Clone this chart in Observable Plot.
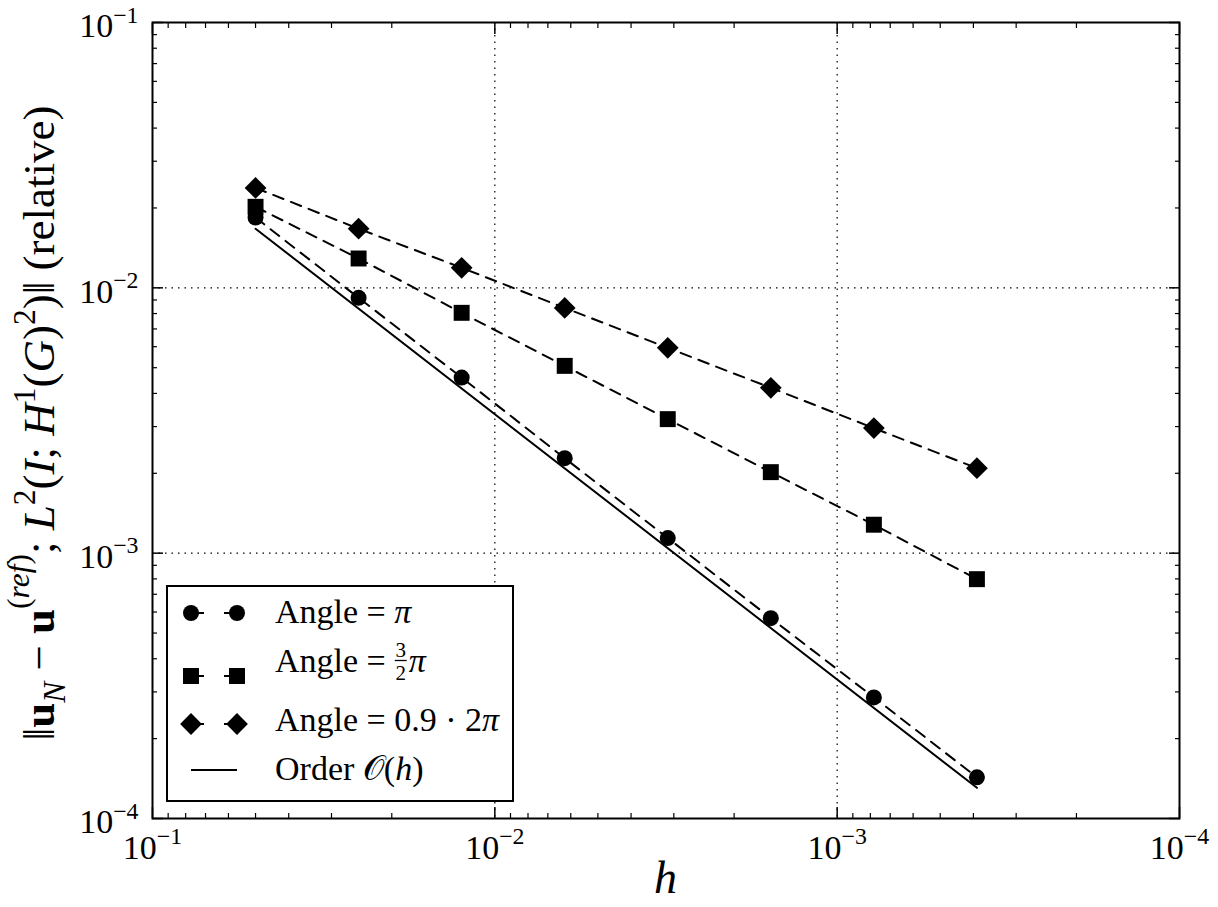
<!DOCTYPE html>
<html><head><meta charset="utf-8">
<script src="https://cdn.jsdelivr.net/npm/d3@7"></script>
<script src="https://cdn.jsdelivr.net/npm/@observablehq/plot@0.6"></script>
<style>
html,body{margin:0;padding:0;background:#fff}
#chart{width:1218px;height:907px}
#chart svg text, #chart svg tspan{font-family:'Liberation Serif','Times New Roman',serif !important}
</style>
</head><body><div id="chart"></div>
<script>
// ---- data ----
const meshSizes = [0.05, 0.025, 0.0125, 0.00625, 0.003125, 0.0015625, 0.00078125, 0.000390625];
const errAnglePi = [0.0184, 0.00917, 0.00459, 0.00228, 0.00114, 0.000569, 0.000286, 0.000143];
const errAngleThreeHalvesPi = [0.0202, 0.0129, 0.00805, 0.00508, 0.00320, 0.00202, 0.00128, 0.000798];
const errAngleNineTenthsTwoPi = [0.0238, 0.0167, 0.0119, 0.0084, 0.00594, 0.0042, 0.00296, 0.00209];
const orderMeshSizes = [0.05, 0.000390625];
const orderValues = [0.0167, 0.0001305];
const majorTicks = [1e-1, 1e-2, 1e-3, 1e-4];
const majorTickLabels = ["10^-1", "10^-2", "10^-3", "10^-4"];
const gridTicks = [1e-2, 1e-3];

const minorTicks = [];
for (const e of [-2, -3, -4]) for (let m = 2; m <= 9; m++) minorTicks.push(+(m * Math.pow(10, e)).toPrecision(6));

const rows = (xs, ys) => xs.map((x, i) => ({x, y: ys[i]}));
const sPi = rows(meshSizes, errAnglePi);
const sThree = rows(meshSizes, errAngleThreeHalvesPi);
const sNine = rows(meshSizes, errAngleNineTenthsTwoPi);
const sOrder = rows(orderMeshSizes, orderValues);
const labelOf = v => majorTickLabels[majorTicks.indexOf(v)];

const FONT = "'Liberation Serif', 'Times New Roman', serif";
const dash = "11,8";
const R_CIRCLE = 8, R_SQUARE = 9, R_DIAMOND = 9.8;

const tickAxes = [];
for (const a of ["bottom", "top"]) {
  tickAxes.push(Plot.axisX({anchor: a, ticks: majorTicks, tickSize: -11, fill: "none", label: null, strokeWidth: 1.5}));
  tickAxes.push(Plot.axisX({anchor: a, ticks: minorTicks, tickSize: -5, fill: "none", label: null, strokeWidth: 1.2}));
}
for (const a of ["left", "right"]) {
  tickAxes.push(Plot.axisY({anchor: a, ticks: majorTicks, tickSize: -11, fill: "none", label: null, strokeWidth: 1.5}));
  tickAxes.push(Plot.axisY({anchor: a, ticks: minorTicks, tickSize: -5, fill: "none", label: null, strokeWidth: 1.2}));
}

const plot = Plot.plot({
  width: 1218, height: 907,
  marginLeft: 152, marginRight: 39, marginTop: 22, marginBottom: 89,
  style: {fontFamily: FONT, background: "white", color: "black"},
  x: {type: "log", domain: [1e-1, 1e-4]},
  y: {type: "log", domain: [1e-4, 1e-1]},
  marks: [
    Plot.gridX(gridTicks, {stroke: "black", strokeOpacity: 1, strokeWidth: 1.2, strokeDasharray: "1.5,5"}),
    Plot.gridY(gridTicks, {stroke: "black", strokeOpacity: 1, strokeWidth: 1.2, strokeDasharray: "1.5,5"}),
    Plot.line(sOrder, {x: "x", y: "y", stroke: "black", strokeWidth: 2}),
    Plot.line(sPi, {x: "x", y: "y", stroke: "black", strokeWidth: 2, strokeDasharray: dash}),
    Plot.line(sThree, {x: "x", y: "y", stroke: "black", strokeWidth: 2, strokeDasharray: dash}),
    Plot.line(sNine, {x: "x", y: "y", stroke: "black", strokeWidth: 2, strokeDasharray: dash}),
    Plot.dot(sPi, {x: "x", y: "y", symbol: "circle", r: R_CIRCLE, fill: "black", stroke: "none"}),
    Plot.dot(sThree, {x: "x", y: "y", symbol: "square", r: R_SQUARE, fill: "black", stroke: "none"}),
    Plot.dot(sNine, {x: "x", y: "y", symbol: "diamond2", r: R_DIAMOND, fill: "black", stroke: "none"}),
    Plot.axisX({anchor: "bottom", ticks: majorTicks, tickSize: 0, tickPadding: 16, fontSize: 34, tickFormat: labelOf, label: null}),
    Plot.axisY({anchor: "left", ticks: majorTicks, tickSize: 0, tickPadding: 14, dy: 4, fontSize: 34, tickFormat: labelOf, label: null}),
    ...tickAxes,
    Plot.frame({stroke: "black", strokeWidth: 2})
  ]
});
document.getElementById("chart").appendChild(plot);

const svg = d3.select(plot);
// superscript exponents on tick labels
svg.selectAll('g[aria-label="x-axis tick label"] text, g[aria-label="y-axis tick label"] text').each(function() {
  const t = this.textContent;
  const [base, exp] = t.split("^");
  const s = d3.select(this);
  s.text(base);
  s.append("tspan").attr("dy", "-0.62em").attr("font-size", "0.7em").text(exp.replace("-", "\u2212"));
});

// axis titles
svg.append("text")
  .attr("x", 665.5).attr("y", 893)
  .attr("text-anchor", "middle")
  .attr("font-size", 46).attr("font-style", "italic")
  .text("h");

const F = 45;
const yl = svg.append("text")
  .attr("transform", "translate(54,423) rotate(-90)")
  .attr("text-anchor", "middle")
  .attr("font-size", F).attr("fill", "black");
const parts = [
  {t: "\u2016"},
  {t: "u", w: "bold"},
  {t: "N", i: 1, size: 0.7, shift: 0.25},
  {t: " \u2212 "},
  {t: "u", w: "bold"},
  {t: "(", size: 0.7, shift: -0.55},
  {t: "ref", i: 1, size: 0.7, shift: -0.55},
  {t: ")", size: 0.7, shift: -0.55},
  {t: "; "},
  {t: "L", i: 1},
  {t: "2", size: 0.7, shift: -0.42},
  {t: "("},
  {t: "I", i: 1},
  {t: "; "},
  {t: "H", i: 1},
  {t: "1", size: 0.7, shift: -0.42},
  {t: "("},
  {t: "G", i: 1},
  {t: ")"},
  {t: "2", size: 0.7, shift: -0.42},
  {t: ")\u2016 (relative)"}
];
let cur = 0;
for (const p of parts) {
  const target = (p.shift || 0) * F;
  const ts = yl.append("tspan").attr("dy", target - cur).text(p.t);
  cur = target;
  if (p.w) ts.attr("font-weight", p.w);
  if (p.i) ts.attr("font-style", "italic");
  if (p.size) ts.attr("font-size", F * p.size);
}

// legend
const lg = svg.append("g").attr("font-size", 34).attr("text-anchor", "start");
lg.append("rect").attr("x", 167).attr("y", 586).attr("width", 346).attr("height", 215)
  .attr("fill", "white").attr("stroke", "black").attr("stroke-width", 2);
const legendRows = [
  {sym: d3.symbolCircle, size: Math.PI * R_CIRCLE * R_CIRCLE, cy: 613, base: 623, label: "pi"},
  {sym: d3.symbolSquare, size: Math.PI * R_SQUARE * R_SQUARE, cy: 676, base: 672, label: "three"},
  {sym: d3.symbolDiamond2, size: Math.PI * R_DIAMOND * R_DIAMOND, cy: 724, base: 731, label: "nine"},
  {sym: null, cy: 770, base: 780, label: "order"}
];
for (const r of legendRows) {
  if (r.sym) {
    lg.append("line").attr("x1", 191).attr("x2", 237).attr("y1", r.cy).attr("y2", r.cy)
      .attr("stroke", "black").attr("stroke-width", 2).attr("stroke-dasharray", "13,20,13");
    for (const cx of [191, 237]) {
      lg.append("path").attr("d", d3.symbol(r.sym, r.size)()).attr("transform", `translate(${cx},${r.cy})`).attr("fill", "black");
    }
  } else {
    lg.append("line").attr("x1", 191).attr("x2", 237).attr("y1", r.cy).attr("y2", r.cy)
      .attr("stroke", "black").attr("stroke-width", 2);
  }
  const tx = lg.append("text").attr("x", 275).attr("y", r.base).attr("text-anchor", "start");
  if (r.label === "pi") {
    tx.append("tspan").text("Angle = ");
    tx.append("tspan").attr("font-style", "italic").text("\u03c0");
  } else if (r.label === "three") {
    tx.append("tspan").text("Angle =");
    const w = tx.node().getComputedTextLength();
    const fx = 275 + w + 9;
    lg.append("text").attr("x", fx + 6).attr("y", r.base - 15).attr("text-anchor", "middle").attr("font-size", 21).text("3");
    lg.append("line").attr("x1", fx).attr("x2", fx + 12).attr("y1", r.base - 11.5).attr("y2", r.base - 11.5).attr("stroke", "black").attr("stroke-width", 1.3);
    lg.append("text").attr("x", fx + 6).attr("y", r.base + 8).attr("text-anchor", "middle").attr("font-size", 21).text("2");
    lg.append("text").attr("x", fx + 14).attr("y", r.base).attr("text-anchor", "start").attr("font-style", "italic").text("\u03c0");
  } else if (r.label === "nine") {
    tx.append("tspan").text("Angle = 0.9 \u00b7 2");
    tx.append("tspan").attr("font-style", "italic").text("\u03c0");
  } else {
    tx.append("tspan").text("Order ");
    tx.append("tspan").text("\ud835\udcaa");
    tx.append("tspan").text("(");
    tx.append("tspan").attr("font-style", "italic").text("h");
    tx.append("tspan").text(")");
  }
}
</script>
</body></html>
